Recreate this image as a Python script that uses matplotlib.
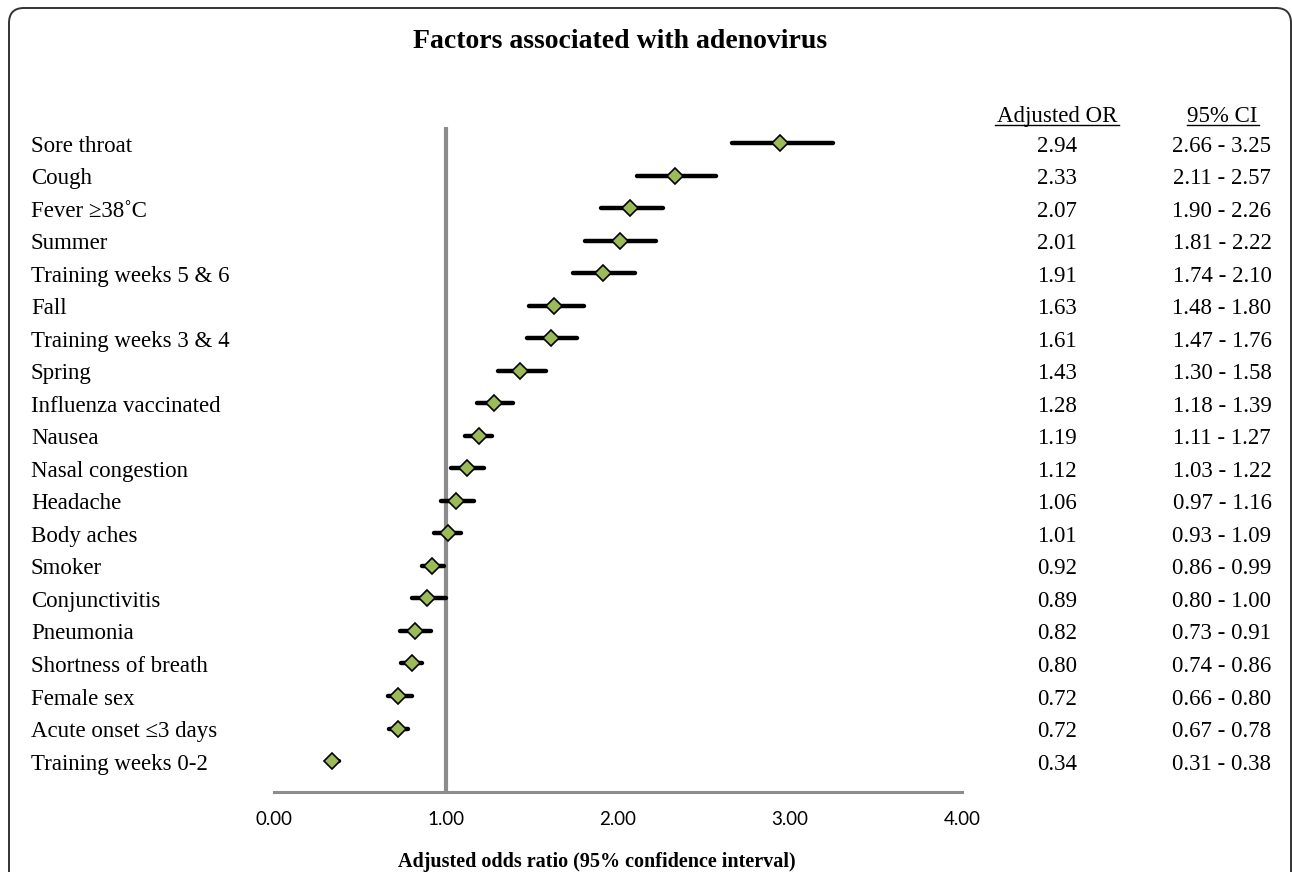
import matplotlib
matplotlib.use("Agg")
import matplotlib.pyplot as plt
from matplotlib.patches import FancyBboxPatch
from matplotlib.transforms import blended_transform_factory
from matplotlib.lines import Line2D

# data
factors = ["Sore throat", "Cough", "Fever \u226538\u02daC", "Summer",
           "Training weeks 5 & 6", "Fall", "Training weeks 3 & 4", "Spring",
           "Influenza vaccinated", "Nausea", "Nasal congestion", "Headache",
           "Body aches", "Smoker", "Conjunctivitis", "Pneumonia",
           "Shortness of breath", "Female sex", "Acute onset \u22643 days",
           "Training weeks 0-2"]
odds = [2.94, 2.33, 2.07, 2.01, 1.91, 1.63, 1.61, 1.43, 1.28, 1.19,
        1.12, 1.06, 1.01, 0.92, 0.89, 0.82, 0.80, 0.72, 0.72, 0.34]
ci_low = [2.66, 2.11, 1.90, 1.81, 1.74, 1.48, 1.47, 1.30, 1.18, 1.11,
          1.03, 0.97, 0.93, 0.86, 0.80, 0.73, 0.74, 0.66, 0.67, 0.31]
ci_high = [3.25, 2.57, 2.26, 2.22, 2.10, 1.80, 1.76, 1.58, 1.39, 1.27,
           1.22, 1.16, 1.09, 0.99, 1.00, 0.91, 0.86, 0.80, 0.78, 0.38]
xticks = [0, 1, 2, 3, 4]

serif = ["Liberation Serif", "DejaVu Serif"]
W, H = 1292, 872

fig = plt.figure(figsize=(W / 100, H / 100), dpi=100)

# rounded frame round the whole figure
frame = FancyBboxPatch((9 / 100, -1.0), (1291 - 9) / 100, (H - 8) / 100 + 1.0,
                       boxstyle="round,pad=0,rounding_size=0.15",
                       transform=fig.dpi_scale_trans, facecolor="none",
                       edgecolor="#333333", linewidth=1.4)
fig.patches.append(frame)

# axes: x from 0 (274px) to 4 (962px), y from 127px to 792px
left, right = 274 / W, 962 / W
bottom, top = 1 - 792 / H, 1 - 127 / H
ax = fig.add_axes([left, bottom, right - left, top - bottom])

row_gap = 32.53
ypos = list(range(len(factors)))
ax.set_xlim(0, 4)
ax.set_ylim((792 - 143) / row_gap, -(143 - 127) / row_gap)

ax.axvline(1, color="#8c8c8c", linewidth=3.0, zorder=1)

for i in ypos:
    ax.plot([ci_low[i], ci_high[i]], [i, i], color="black", linewidth=3.2,
            solid_capstyle="round", zorder=2)
ax.plot(odds, ypos, linestyle="none", marker="D", markersize=8,
        markerfacecolor="#9bbb59", markeredgecolor="black",
        markeredgewidth=1.2, zorder=3)

for s in ["top", "right", "left"]:
    ax.spines[s].set_visible(False)
ax.spines["bottom"].set_color("#8c8c8c")
ax.spines["bottom"].set_linewidth(2.2)
ax.set_yticks([])
ax.set_xticks(xticks)
ax.set_xticklabels(["%.2f" % t for t in xticks], fontfamily="Lato", fontsize=13.5)
ax.tick_params(axis="x", length=0, pad=14)

# row labels and the two text columns (baseline a little below the row centre)
tr = blended_transform_factory(fig.transFigure, ax.transData)
base = 8.5 / row_gap
for i in ypos:
    ax.text(31 / W, i + base, factors[i], transform=tr, ha="left",
            va="baseline", fontsize=16.5, family=serif)
    ax.text(1057 / W, i + base, "%.2f" % odds[i], transform=tr, ha="center",
            va="baseline", fontsize=16.5, family=serif)
    ax.text(1222 / W, i + base, "%.2f - %.2f" % (ci_low[i], ci_high[i]),
            transform=tr, ha="center", va="baseline", fontsize=16.5,
            family=serif)

# column headers, underlined
head_y = 1 - 122 / H
fig.text(1057 / W, head_y, "Adjusted OR", ha="center", va="baseline",
         fontsize=16.5, family=serif)
fig.text(1222 / W, head_y, "95% CI", ha="center", va="baseline",
         fontsize=16.5, family=serif)
ul_y = 1 - 125 / H
fig.lines.append(Line2D([995 / W, 1119 / W], [ul_y, ul_y], color="black",
                        linewidth=1.0, transform=fig.transFigure))
fig.lines.append(Line2D([1187 / W, 1259 / W], [ul_y, ul_y], color="black",
                        linewidth=1.0, transform=fig.transFigure))

fig.text(620 / W, 1 - 48 / H, "Factors associated with adenovirus",
         ha="center", va="baseline", fontsize=20, fontweight="bold", family=serif)
fig.text(597 / W, 1 - 867 / H, "Adjusted odds ratio (95% confidence interval)",
         ha="center", va="baseline", fontsize=14.5, fontweight="bold", family=serif)

fig.savefig("out.png", dpi=100)
